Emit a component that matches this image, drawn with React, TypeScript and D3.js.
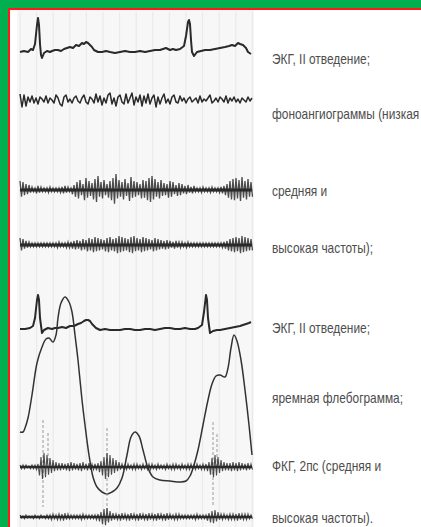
import React from 'react';
import * as d3 from 'd3';

const W = 421;
const H = 527;

// ---- ECG (lead II), upper record: [time, deflection] ----
const ecg1T = [0, 4, 8, 11, 13, 15, 17, 18, 19, 20, 21, 22, 24, 27, 30, 32, 35, 38, 41, 44, 47, 50, 53, 56, 59, 62, 64, 66, 68, 70, 72, 74, 78, 82, 86, 90, 95, 100, 105, 110, 115, 120, 125, 130, 135, 140, 143, 146, 150, 153, 156, 160, 164, 166, 168, 169, 170, 171, 172, 174, 177, 181, 185, 190, 195, 200, 205, 209, 212, 215, 218, 220, 223, 226, 228, 231];
const ecg1V = [-1, 0, -1, 2, 1, 7, 26, 33, 26, 7, -4, -7, -2, 0, -1, 0, 1, 1, 0, 2, 3, 4, 3, 6, 5, 8, 7, 9, 8, 6, 4, 1, -1, -1, 0, -1, -2, -1, 0, -1, -1, 0, -1, 0, 1, 1, 2, 3, 1, 2, 1, 2, 5, 15, 29, 31, 27, 11, -1, -5, -1, 0, 1, 1, 2, 3, 4, 5, 6, 5, 8, 7, 6, 3, -1, -3];

// ---- phonoangiogram, low frequency (signed deflection, 2-unit steps) ----
const phonoLow = [6, -7, 5, -6, 3, -2, 4, -3, 2, -4, 3, 1, -2, 4, -3, 2, 0, -3, 5, 2, -4, -6, 3, 5, -2, 1, -3, 2, 4, -1, -3, 2, 5, -2, -4, 3, 1, -3, 6, -2, 4, -5, 2, -3, 5, 7, -4, 2, -6, 3, 5, -2, -4, 6, -3, 2, 7, -5, 3, -2, 5, -6, 4, -3, 6, -4, 2, 5, -7, 3, -4, 2, 6, -3, 1, -4, 3, 5, -2, -3, 4, -1, 2, -3, 1, 3, -2, 0, 2, -3, 4, -2, 1, -1, 2, 5, -3, -1, 2, -2, 3, 1, -2, 4, -3, 2, -1, 3, -2, 1, -3, 2, 0, -2, 3, -1, 2];
// ---- medium frequency (amplitude per sample) ----
const phonoMid = [9, 8, 6, 5, 3, 2, 4, 3, 2, 2, 3, 2, 2, 2, 3, 4, 3, 2, 5, 8, 10, 6, 12, 9, 7, 11, 14, 8, 10, 6, 9, 12, 16, 10, 8, 11, 7, 13, 9, 8, 6, 10, 9, 12, 14, 11, 8, 10, 7, 6, 9, 8, 5, 7, 6, 4, 5, 3, 4, 2, 2, 3, 2, 2, 3, 2, 2, 3, 4, 6, 9, 11, 12, 10, 13, 9, 11, 8];
// ---- high frequency ----
const phonoHigh = [7, 6, 4, 3, 2, 2, 2, 2, 2, 2, 2, 2, 2, 3, 2, 2, 3, 3, 4, 5, 4, 6, 5, 7, 6, 8, 7, 6, 5, 7, 8, 6, 7, 9, 8, 7, 6, 8, 9, 7, 6, 8, 7, 6, 5, 7, 6, 5, 4, 5, 4, 3, 4, 3, 3, 2, 3, 2, 2, 2, 2, 2, 2, 2, 2, 2, 2, 2, 3, 4, 6, 7, 8, 7, 9, 8, 7, 6];

// ---- ECG (lead II), lower record ----
const ecg2T = [0, 5, 10, 13, 15, 17, 18, 19, 20, 22, 24, 28, 32, 35, 38, 42, 46, 50, 54, 58, 61, 64, 66, 68, 70, 72, 76, 80, 85, 90, 95, 100, 105, 110, 115, 120, 125, 130, 135, 140, 145, 150, 155, 160, 165, 170, 175, 178, 182, 184, 186, 187, 188, 190, 193, 197, 200, 205, 210, 215, 220, 223, 226, 229, 231];
const ecg2V = [0, 0, 1, 3, 11, 29, 34, 29, 11, -4, -1, 1, 0, 1, 1, 2, 1, 3, 3, 5, 6, 8, 9, 9, 8, 5, 1, -1, 0, -1, -1, -1, 0, 0, -1, -1, 0, 0, -1, 0, 1, 1, 0, 0, 1, 0, 0, 1, 4, 17, 34, 29, 11, -4, -2, -1, -1, 0, 1, 2, 3, 4, 5, 6, 7];

// ---- jugular phlebogram ----
const jugT = [0, 3, 5, 8, 12, 17, 22, 26, 29, 33, 36, 38, 41, 45, 49, 52, 55, 58, 62, 65, 69, 73, 77, 82, 87, 92, 97, 102, 107, 111, 115, 119, 123, 128, 133, 140, 150, 160, 166, 170, 174, 178, 183, 188, 192, 196, 200, 205, 208, 211, 214, 217, 221, 225, 229, 232];
const jugV = [68, 68, 72, 82, 105, 137, 153, 161, 162, 158, 165, 182, 197, 203, 198, 188, 165, 140, 100, 75, 45, 23, 13, 8, 6, 8, 12, 22, 45, 63, 68, 64, 50, 32, 23, 20, 19, 18, 19, 24, 35, 50, 75, 100, 116, 124, 125, 123, 132, 152, 165, 159, 140, 110, 75, 45];

// ---- FKG, 2nd intercostal space (medium / high) ----
const fkgMid = [2, 2, 2, 1, 2, 2, 3, 10, 14, 12, 9, 7, 5, 4, 4, 3, 4, 5, 4, 3, 4, 5, 3, 4, 3, 3, 4, 6, 10, 14, 12, 9, 7, 5, 3, 2, 3, 2, 3, 3, 2, 3, 2, 3, 3, 2, 3, 2, 2, 3, 2, 3, 3, 2, 3, 2, 3, 3, 2, 3, 2, 3, 3, 5, 9, 12, 10, 7, 5, 4, 4, 5, 4, 5, 4, 3, 4, 3];
const fkgHigh = [2, 1, 2, 1, 1, 2, 1, 2, 1, 2, 2, 3, 2, 3, 3, 4, 3, 2, 2, 2, 2, 3, 2, 2, 2, 2, 3, 5, 8, 9, 6, 4, 3, 3, 4, 3, 3, 4, 3, 3, 4, 3, 3, 4, 3, 3, 4, 3, 3, 4, 3, 2, 3, 3, 2, 2, 2, 2, 2, 3, 2, 2, 2, 4, 6, 7, 5, 3, 3, 2, 3, 3, 3, 4, 3, 3, 3, 2];
// faint vertical oscillation strokes of the heart sounds: [time, top, bottom]
const soundT = [23, 28, 87, 193, 197];
const soundTop = [420, 433, 428, 422, 434];
const soundBottom = [507, 463, 522, 505, 466];

// ---- labels ----
const labels = [
  'ЭКГ, II отведение;',
  'фоноангиограммы (низкая',
  'средняя и',
  'высокая частоты);',
  'ЭКГ, II отведение;',
  'яремная флебограмма;',
  'ФКГ, 2пс (средняя и',
  'высокая частоты).',
];
const labelY = [59, 114, 191, 248, 328, 398, 466, 518];

const STEP = 3;
const STEP_LOW = 2;

export default function App() {
  const x = d3.scaleLinear().domain([0, 232]).range([20, 252]);

  const traceY = (center: number) => d3.scaleLinear().domain([-40, 40]).range([center + 40, center - 40]);

  const line = d3.line<[number, number]>().x((d) => d[0]).y((d) => d[1]);

  const ecgPath = (ts: number[], vs: number[], center: number) => {
    const y = traceY(center);
    return line(ts.map((t, i) => [x(t), y(vs[i])] as [number, number])) || '';
  };

  const burstPath = (amps: number[], center: number, k: number) => {
    const y = traceY(center);
    const pts: [number, number][] = [];
    amps.forEach((a, i) => {
      const b = amps[Math.min(i + 1, amps.length - 1)];
      const t = i * STEP;
      pts.push([x(t), y(a)]);
      pts.push([x(t + STEP / 2), y(-b * k)]);
    });
    return line(pts) || '';
  };

  const signedPath = (vals: number[], center: number) => {
    const y = traceY(center);
    const pts: [number, number][] = vals.map((v, i) => [x(i * STEP_LOW), y(v)]);
    return line(pts) || '';
  };

  const jy = d3.scaleLinear().domain([0, 210]).range([500, 290]);
  const jugPath = d3.line<number>().x((t) => x(t)).y((_, i) => jy(jugV[i])).curve(d3.curveCatmullRom.alpha(0.5))(jugT) || '';

  const gridX = d3.range(0, 233, 16.6);

  const ink = '#2a2a2a';

  return (
    <svg width={W} height={H} style={{ position: 'absolute', left: 0, top: 0 }} xmlns="http://www.w3.org/2000/svg">
      <defs>
        <filter id="soft" x="-5%" y="-5%" width="110%" height="110%">
          <feGaussianBlur stdDeviation="0.45" />
        </filter>
        <filter id="softer" x="-5%" y="-20%" width="110%" height="140%">
          <feGaussianBlur stdDeviation="0.7" />
        </filter>
      </defs>
      <rect x={0} y={0} width={W} height={H} fill="#ffffff" />
      {/* trace panel */}
      <rect x={17} y={10} width={237} height={H - 10} fill="#f7f7f7" />
      {gridX.map((g, i) => (
        <line key={i} x1={x(g)} x2={x(g)} y1={12} y2={H} stroke="#e4e4e4" strokeWidth={0.8} />
      ))}
      {/* frame */}
      <rect x={0} y={0} width={W} height={8} fill="#00b050" />
      <rect x={0} y={0} width={8} height={H} fill="#00b050" />
      <rect x={8} y={8} width={W - 8} height={2} fill="#ff1a1a" />
      <rect x={8} y={8} width={2} height={H - 8} fill="#ff1a1a" />

      <g filter="url(#soft)">
        {/* ECG 1 */}
        <path d={ecgPath(ecg1T, ecg1V, 51)} fill="none" stroke={ink} strokeWidth={2} strokeLinejoin="round" />
        {/* phono low */}
        <path d={signedPath(phonoLow, 100)} fill="none" stroke={ink} strokeWidth={1.5} strokeLinejoin="round" />
        {/* ECG 2 */}
        <path d={ecgPath(ecg2T, ecg2V, 329)} fill="none" stroke={ink} strokeWidth={2} strokeLinejoin="round" />
        {/* jugular */}
        <path d={jugPath} fill="none" stroke="#333" strokeWidth={1.5} />
        {/* heart sound strokes */}
        {soundT.map((t, i) => (
          <line key={i} x1={x(t)} x2={x(t)} y1={soundTop[i]} y2={soundBottom[i]} stroke="#9a9a9a" strokeWidth={1} strokeDasharray="3,2" />
        ))}
      </g>
      <g filter="url(#softer)">
        {/* phono mid */}
        <path d={burstPath(phonoMid, 190, 0.85)} fill="none" stroke="#222" strokeWidth={1.3} opacity={0.8} />
        <line x1={x(0)} x2={x(232)} y1={190} y2={190} stroke={ink} strokeWidth={3} />
        {/* phono high */}
        <path d={burstPath(phonoHigh, 245, 0.9)} fill="none" stroke="#222" strokeWidth={1.3} opacity={0.8} />
        <line x1={x(0)} x2={x(232)} y1={245} y2={245} stroke={ink} strokeWidth={3} />
        {/* FKG mid */}
        <path d={burstPath(fkgMid, 467, 0.85)} fill="none" stroke="#222" strokeWidth={1.1} opacity={0.8} />
        <line x1={x(0)} x2={x(232)} y1={467} y2={467} stroke={ink} strokeWidth={2.4} />
        {/* FKG high */}
        <path d={burstPath(fkgHigh, 517, 0.9)} fill="none" stroke="#222" strokeWidth={1.1} opacity={0.8} />
        <line x1={x(0)} x2={x(232)} y1={517} y2={517} stroke={ink} strokeWidth={2.4} />
      </g>

      {labels.map((s, i) => (
        <text
          key={i}
          transform={`translate(272,${labelY[i] + 4.5}) scale(0.85,1)`}
          fontFamily="'Liberation Sans', Arial, sans-serif"
          fontSize={14}
          fill="#4d4d4d"
        >
          {s}
        </text>
      ))}
    </svg>
  );
}
